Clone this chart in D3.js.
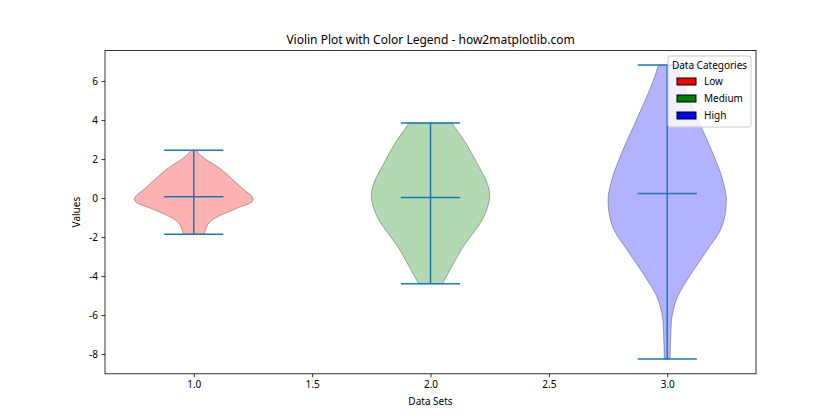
<!DOCTYPE html>
<html><head><meta charset="utf-8">
<script src="https://cdn.jsdelivr.net/npm/d3@7"></script>
<style>body{margin:0;background:#fff;} svg{display:block;} text{font-family:"Noto Sans","DejaVu Sans",sans-serif;}</style>
</head><body><svg id="c" width="840" height="420"></svg>
<script>
const positions = [1, 2, 3];
const categories = ["Low", "Medium", "High"];
const colors = ["#ff0000", "#008000", "#0000ff"];
const mins = [-1.85, -4.4, -8.26];
const maxs = [2.45, 3.85, 6.82];
const means = [0.07, 0.03, 0.24];
// density profiles: [value, relative width]
const profile1 = [[-1.85,0.18],[-1.6,0.2],[-1.3,0.25],[-1.0,0.38],[-0.5,0.75],[-0.2,0.98],[0.0,1.0],[0.5,0.82],[1.0,0.64],[1.5,0.45],[2.0,0.2],[2.3,0.08],[2.45,0.05]];
const profile2 = [[-4.4,0.2],[-3.3,0.4],[-2.5,0.55],[-1.8,0.72],[-0.97,0.9],[0.05,1.0],[0.75,0.96],[1.6,0.82],[2.8,0.6],[3.85,0.36]];
const profile3 = [[-8.26,0.05],[-7.1,0.06],[-6.1,0.08],[-5.1,0.17],[-4.05,0.37],[-2.65,0.68],[-1.5,0.92],[-0.1,1.0],[1.1,0.92],[2.45,0.75],[4.15,0.5],[5.9,0.25],[6.82,0.15]];
const profiles = [profile1, profile2, profile3];
const xTicks = [1.0, 1.5, 2.0, 2.5, 3.0];
const yTicks = [-8, -6, -4, -2, 0, 2, 4, 6];

const svg = d3.select("#c");
const L = 105, R = 756, T = 50.4, B = 373.8;
const lo = d3.min(mins), hi = d3.max(maxs), pad = (hi - lo) * 0.05;
const x = d3.scaleLinear().domain([0.625, 3.375]).range([L, R]);
const y = d3.scaleLinear().domain([lo - pad, hi + pad]).range([B, T]);
const halfW = 0.25;

profiles.forEach((p, i) => {
  const pos = positions[i];
  const area = d3.area()
    .y(d => y(d[0]))
    .x0(d => x(pos - halfW * d[1]))
    .x1(d => x(pos + halfW * d[1]))
    .curve(d3.curveCatmullRom.alpha(0.5));
  svg.append("path").datum(p).attr("d", area)
    .attr("fill", colors[i]).attr("fill-opacity", 0.3)
    .attr("stroke", "#000").attr("stroke-opacity", 0.3).attr("stroke-width", 1);
});

const lc = "#1f77b4";
positions.forEach((pos, i) => {
  svg.append("line").attr("x1", x(pos)).attr("x2", x(pos)).attr("y1", y(mins[i])).attr("y2", y(maxs[i])).attr("stroke", lc).attr("stroke-width", 1.5);
  [mins[i], maxs[i], means[i]].forEach(v => {
    svg.append("line").attr("x1", x(pos - 0.125)).attr("x2", x(pos + 0.125)).attr("y1", y(v)).attr("y2", y(v)).attr("stroke", lc).attr("stroke-width", 1.5);
  });
});

// frame
svg.append("rect").attr("x", L).attr("y", T).attr("width", R - L).attr("height", B - T).attr("fill", "none").attr("stroke", "#000").attr("stroke-width", 0.8);

const xa = svg.append("g").attr("transform", `translate(0,${B})`)
  .call(d3.axisBottom(x).tickValues(xTicks).tickFormat(d3.format(".1f")).tickSizeInner(3.5).tickSizeOuter(0));
const ya = svg.append("g").attr("transform", `translate(${L},0)`)
  .call(d3.axisLeft(y).tickValues(yTicks).tickFormat(d => d).tickSizeInner(3.5).tickSizeOuter(0));
[xa, ya].forEach(g => {
  g.select(".domain").remove();
  g.selectAll(".tick line").attr("stroke", "#000").attr("stroke-width", 0.8);
  g.selectAll(".tick text").attr("font-size", 10).attr("fill", "#000").attr("font-family", "Noto Sans, DejaVu Sans, sans-serif");
});
xa.selectAll(".tick text").attr("dy", "0.71em").attr("y", 7);
ya.selectAll(".tick text").attr("x", -7);

svg.append("text").attr("x", (L + R) / 2).attr("y", 44).attr("text-anchor", "middle").attr("font-size", 12).text("Violin Plot with Color Legend - how2matplotlib.com");
svg.append("text").attr("x", (L + R) / 2).attr("y", 405).attr("text-anchor", "middle").attr("font-size", 10).text("Data Sets");
svg.append("text").attr("transform", `translate(80,${(T + B) / 2}) rotate(-90)`).attr("text-anchor", "middle").attr("font-size", 10).text("Values");

// legend
const lg = svg.append("g");
lg.append("rect").attr("x", 668).attr("y", 56).attr("width", 83).attr("height", 71).attr("rx", 2)
  .attr("fill", "#fff").attr("fill-opacity", 0.8).attr("stroke", "#ccc").attr("stroke-width", 1);
lg.append("text").attr("x", 709.5).attr("y", 68.5).attr("text-anchor", "middle").attr("font-size", 10).text("Data Categories");
categories.forEach((c, i) => {
  const cy = 81.5 + i * 17;
  lg.append("rect").attr("x", 677).attr("y", cy - 3.5).attr("width", 19).attr("height", 7).attr("fill", colors[i]).attr("stroke", "#000").attr("stroke-width", 1);
  lg.append("text").attr("x", 704).attr("y", cy + 3.5).attr("font-size", 10).text(c);
});
</script></body></html>
